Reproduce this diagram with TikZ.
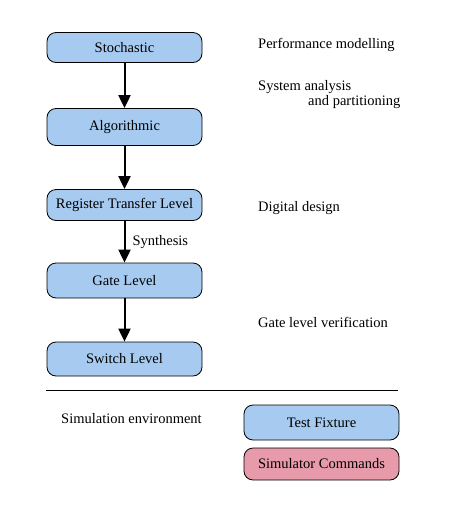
\documentclass[tikz,border=0pt]{standalone}
\usepackage{fontspec}
\setmainfont{Liberation Serif}
\usetikzlibrary{arrows.meta}
\definecolor{boxblue}{HTML}{A6CAF0}
\definecolor{boxpink}{HTML}{E69AAA}
\begin{document}
\begin{tikzpicture}[x=1pt,y=-1pt,
  lvl/.style={draw=black, line width=0.8pt, rounded corners=9pt, fill=boxblue, minimum width=155pt, inner sep=0pt, font=\fontsize{14.5}{16}\selectfont},
  note/.style={anchor=west, inner sep=0pt, font=\fontsize{14.5}{16}\selectfont},
  flow/.style={line width=2pt, -{Triangle[length=13pt,width=12pt]}}]
\useasboundingbox (0,0) rectangle (448,512);
\node[lvl, minimum height=30pt] (sto) at (124.5,47.5) {Stochastic};
\node[lvl, minimum height=37pt] (alg) at (124.5,127) {Algorithmic};
\node[lvl, minimum height=31pt] (rtl) at (124.5,205) {Register Transfer Level};
\node[lvl, minimum height=35pt] (gate) at (124.5,280.5) {Gate Level};
\node[lvl, minimum height=34pt] (sw) at (124.5,359) {Switch Level};
\draw[flow] (sto) -- (alg);
\draw[flow] (alg) -- (rtl);
\draw[flow] (rtl) -- node[note, right=7pt] (syn) {Synthesis} (gate);
\draw[flow] (gate) -- (sw);
\node[note] (perf) at (258,45) {Performance modelling};
\node[note] (sys1) at (258,87) {System analysis};
\node[note] (sys2) at (308,102) {and partitioning};
\node[note] (dig) at (258,208) {Digital design};
\node[note] (glv) at (258,322) {Gate level verification};
\coordinate (l1) at (46,390);
\coordinate (l2) at (398,390);
\draw[line width=0.8pt] (l1) -- (l2);
\node[note] (simenv) at (61,419) {Simulation environment};
\node[lvl, minimum height=35pt] (tf) at (321.5,422.5) {Test Fixture};
\node[lvl, fill=boxpink, minimum height=32pt] (sc) at (321.5,464) {Simulator Commands};
\end{tikzpicture}
\end{document}
